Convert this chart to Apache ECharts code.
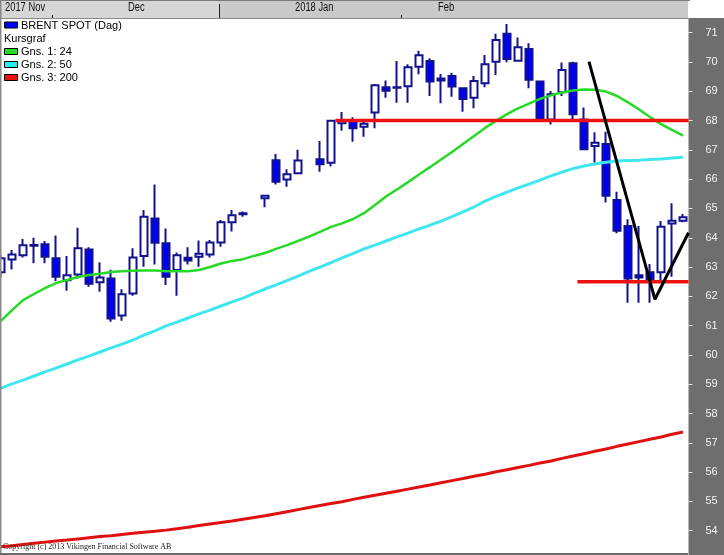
<!DOCTYPE html>
<html><head><meta charset="utf-8">
<script src="https://cdn.jsdelivr.net/npm/echarts@6/dist/echarts.min.js"></script>
<style>html,body{margin:0;padding:0;background:#fff}#c{width:724px;height:555px}</style>
</head><body><div id="c"></div>
<script>
// ---- data ----
const dates = ['2017-11-22','2017-11-23','2017-11-24','2017-11-27','2017-11-28','2017-11-29','2017-11-30','2017-12-01',
 '2017-12-04','2017-12-05','2017-12-06','2017-12-07','2017-12-08','2017-12-11','2017-12-12','2017-12-13','2017-12-14','2017-12-15',
 '2017-12-18','2017-12-19','2017-12-20','2017-12-21','2017-12-22','2017-12-25','2017-12-26','2017-12-27','2017-12-28','2017-12-29',
 '2018-01-01','2018-01-02','2018-01-03','2018-01-04','2018-01-05','2018-01-08','2018-01-09','2018-01-10','2018-01-11','2018-01-12',
 '2018-01-15','2018-01-16','2018-01-17','2018-01-18','2018-01-19','2018-01-22','2018-01-23','2018-01-24','2018-01-25','2018-01-26',
 '2018-01-29','2018-01-30','2018-01-31','2018-02-01','2018-02-02','2018-02-05','2018-02-06','2018-02-07','2018-02-08','2018-02-09',
 '2018-02-12','2018-02-13','2018-02-14','2018-02-15','2018-02-16'];
const opens  = [62.82,63.26,63.40,63.73,63.78,63.30,62.55,62.75,63.60,62.48,62.61,61.35,62.10,63.38,64.66,63.81,62.90,63.32,63.35,63.43,63.84,64.53,64.84,null,65.35,66.65,65.99,66.20,null,66.68,66.56,67.91,68.02,67.79,68.28,69.14,69.12,69.17,69.84,70.03,69.37,69.52,69.10,68.78,69.27,70.01,70.96,70.04,70.44,69.33,68.04,68.97,69.96,68.04,67.13,67.20,65.29,64.40,62.72,62.82,62.82,64.49,64.58];
const closes = [63.30,63.43,63.74,63.75,63.35,62.67,62.72,63.64,62.43,62.64,61.24,62.07,63.33,64.72,63.83,62.67,63.40,63.22,63.45,63.84,64.53,64.77,64.80,null,65.43,65.91,66.17,66.64,null,66.51,67.99,67.99,67.74,67.89,69.21,69.02,69.14,69.82,70.23,69.33,69.44,69.16,68.74,69.35,69.92,70.75,70.10,70.50,69.39,68.04,68.90,69.73,68.22,67.02,67.24,65.43,64.24,62.61,62.64,62.56,64.38,64.58,64.70];
const lows   = [62.64,62.92,63.33,63.13,63.13,62.52,62.19,62.61,62.33,62.16,61.13,61.17,62.02,63.01,63.09,62.39,62.02,63.09,63.01,63.33,63.69,64.21,64.72,null,65.04,65.82,65.74,66.20,null,66.25,66.43,67.65,67.28,67.45,67.74,68.78,68.61,68.61,69.58,68.84,68.59,68.81,68.30,68.42,69.14,69.56,69.99,70.04,69.10,68.04,67.87,68.84,68.02,67.02,66.56,65.20,64.15,61.78,61.78,61.78,62.56,62.67,64.53];
const highs  = [63.41,63.58,63.96,64.00,63.89,64.08,63.38,64.34,63.68,63.16,62.91,62.24,63.64,64.95,65.82,64.32,63.50,63.68,63.91,63.92,64.61,64.95,64.90,null,65.43,66.86,66.34,67.00,null,67.30,68.02,68.29,68.11,67.99,69.25,69.37,70.03,69.92,70.38,70.13,69.59,69.63,69.10,69.52,70.24,70.96,71.30,70.84,70.64,69.36,69.01,69.98,70.01,68.45,67.60,67.62,65.57,64.63,64.40,63.10,64.57,65.18,64.81];
const ma24  = [61.16,61.53,61.87,62.08,62.28,62.45,62.56,62.66,62.73,62.77,62.83,62.86,62.87,62.88,62.88,62.86,62.86,62.86,62.90,63.00,63.12,63.21,63.27,63.38,63.48,63.62,63.75,63.89,64.04,64.20,64.37,64.49,64.64,64.84,65.12,65.41,65.65,65.90,66.16,66.41,66.67,66.93,67.20,67.47,67.75,67.99,68.22,68.42,68.58,68.74,68.86,68.96,69.03,69.06,69.05,68.99,68.84,68.62,68.38,68.12,67.88,67.68,67.49];
const ma50  = [58.87,59.01,59.14,59.28,59.42,59.55,59.69,59.83,59.96,60.10,60.24,60.37,60.51,60.68,60.82,60.99,61.12,61.26,61.40,61.53,61.67,61.81,61.94,62.10,62.25,62.39,62.54,62.69,62.85,63.00,63.15,63.31,63.46,63.62,63.75,63.89,64.03,64.16,64.30,64.43,64.57,64.72,64.88,65.05,65.25,65.41,65.56,65.70,65.83,65.97,66.11,66.24,66.36,66.45,66.52,66.58,66.62,66.64,66.65,66.67,66.69,66.72,66.75];
const ma200 = [53.45,53.49,53.53,53.57,53.61,53.65,53.68,53.72,53.76,53.80,53.83,53.87,53.91,53.95,53.98,54.02,54.07,54.12,54.18,54.23,54.28,54.33,54.39,54.45,54.51,54.58,54.65,54.72,54.79,54.86,54.93,54.99,55.07,55.14,55.21,55.28,55.35,55.42,55.49,55.56,55.64,55.71,55.78,55.86,55.93,56.01,56.08,56.16,56.23,56.31,56.38,56.47,56.55,56.63,56.71,56.79,56.88,56.96,57.04,57.12,57.20,57.29,57.37];
const resistanceLine = [[30.4, 68.0], [62.5, 68.0]];
const supportLine = [[52.4, 62.5], [62.5, 62.5]];
const trendLine = [[53.45, 70.01], [59.45, 61.90], [62.5, 64.17]];
const yTickLabels = [54,55,56,57,58,59,60,61,62,63,64,65,66,67,68,69,70,71];
const monthLabels = ['2017 Nov', 'Dec', '2018 Jan', 'Feb'];
const legendNames = ['BRENT SPOT (Dag)', 'Kursgraf', 'Gns. 1: 24', 'Gns. 2: 50', 'Gns. 3: 200'];

// ---- styles ----
const C_GREEN = '#26d926', C_CYAN = '#3fe6ee', C_RED = '#e01010';
const legendColors = ['#0000ff', null, '#22dd22', '#22eeee', '#ee1111'];
const monthX = [5, 128, 295, 438];

const candles = opens.map((o, i) => o == null ? ['-', '-', '-', '-'] : [o, closes[i], lows[i], highs[i]]);

const graphics = [];
graphics.push({type:'rect', shape:{x:0,y:0,width:219,height:18}, style:{fill:'#d6d6d6'}, z:100});
graphics.push({type:'rect', shape:{x:219,y:0,width:471,height:18}, style:{fill:'#c9c9c9'}, z:100});
graphics.push({type:'rect', shape:{x:688,y:0,width:36,height:18}, style:{fill:'#ffffff'}, z:100});
graphics.push({type:'line', shape:{x1:0,y1:0.5,x2:690,y2:0.5}, style:{stroke:'#7a7a7a',lineWidth:1}, z:101});
graphics.push({type:'line', shape:{x1:0,y1:18.5,x2:690,y2:18.5}, style:{stroke:'#8a8a8a',lineWidth:1}, z:101});
graphics.push({type:'line', shape:{x1:52.5,y1:15,x2:52.5,y2:18}, style:{stroke:'#222',lineWidth:1}, z:101});
graphics.push({type:'line', shape:{x1:219.5,y1:4,x2:219.5,y2:18}, style:{stroke:'#222',lineWidth:1}, z:101});
graphics.push({type:'line', shape:{x1:401.5,y1:15,x2:401.5,y2:18}, style:{stroke:'#222',lineWidth:1}, z:101});
monthLabels.forEach((t, i) => graphics.push({type:'text', x:monthX[i], y:8, scaleX:0.78, z:102,
  style:{text:t, fill:'#111', font:'12px "Liberation Sans", Arial', textVerticalAlign:'middle'}}));
graphics.push({type:'rect', shape:{x:0,y:0,width:1.5,height:555}, style:{fill:'#8a8a8a'}, z:101});
graphics.push({type:'rect', shape:{x:0,y:553,width:688,height:2}, style:{fill:'#6a6a6a'}, z:101});
const legendY = [25.5, 39, 52, 65, 78];
legendNames.forEach((t, i) => {
  if (legendColors[i]) graphics.push({type:'rect', shape:{x:4.5,y:legendY[i]-3.5,width:13,height:6}, style:{fill:legendColors[i], stroke:'#000', lineWidth:1}, z:102});
  graphics.push({type:'text', x: legendColors[i] ? 21 : 4, y: legendY[i], z:102,
    style:{text:t, fill:'#000', font:'11px "Liberation Sans", Arial', textVerticalAlign:'middle'}});
});
graphics.push({type:'text', x:3, y:547, z:102,
  style:{text:'Copyright (c) 2013 Vikingen Financial Software AB', fill:'#222', font:'8px "Liberation Serif", "Times New Roman", serif', textVerticalAlign:'middle'}});

const chart = echarts.init(document.getElementById('c'), null, {renderer:'canvas'});
chart.setOption({
  animation: false,
  backgroundColor: '#6e6e6e',
  grid: {left:-4.5, top:3.4, width:693, height:556.6, show:true, backgroundColor:'#ffffff', borderWidth:0,
    containLabel:false, outerBoundsMode:'none'},
  xAxis: [
    {type:'category', data:dates, boundaryGap:true, show:false},
    {type:'value', min:-0.5, max:62.5, show:false}
  ],
  yAxis: {type:'value', position:'right', min:53, max:72, interval:1,
    axisLine:{show:false, onZero:false}, splitLine:{show:false},
    axisTick:{show:true, length:4, lineStyle:{color:'#e6e6e6', width:1}},
    axisLabel:{margin:17, color:'#f2f2f2', fontSize:11, fontFamily:'"Liberation Sans", Arial',
      formatter: v => yTickLabels.includes(v) ? String(v) : ''}
  },
  series: [
    {type:'candlestick', name:'BRENT SPOT (Dag)', data:candles, barWidth:7,
      itemStyle:{color:'#ffffff', color0:'#0000f0', borderColor:'#12128e', borderColor0:'#12128e', borderColorDoji:'#12128e', borderWidth:2}},
    {type:'line', name:'Gns. 1: 24', data:ma24, symbol:'none', lineStyle:{color:C_GREEN, width:2.5}},
    {type:'line', name:'Gns. 2: 50', data:ma50, symbol:'none', lineStyle:{color:C_CYAN, width:3}},
    {type:'line', name:'Gns. 3: 200', data:ma200, symbol:'none', lineStyle:{color:C_RED, width:3}},
    {type:'line', xAxisIndex:1, data:resistanceLine, symbol:'none', lineStyle:{color:'#ee1111', width:3.5}},
    {type:'line', xAxisIndex:1, data:supportLine, symbol:'none', lineStyle:{color:'#ee1111', width:3.5}},
    {type:'line', xAxisIndex:1, data:trendLine, symbol:'none', lineStyle:{color:'#000000', width:3}}
  ],
  graphic: graphics
});
</script></body></html>
